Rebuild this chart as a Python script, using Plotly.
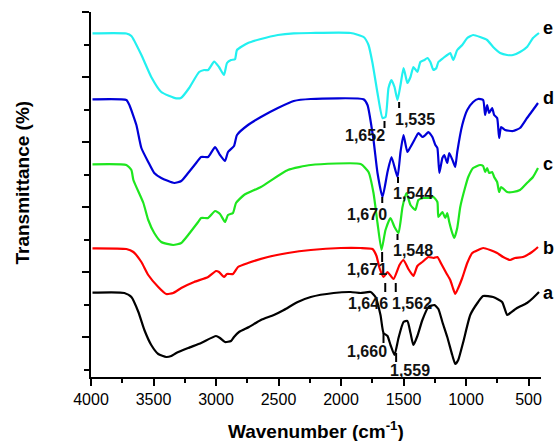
import plotly.graph_objects as go

# ---------------- data ----------------
wn_e = [3988, 3717, 3677, 3597, 3518, 3438, 3318, 3278, 3215, 3135, 3095, 3063, 3015, 2976, 2936,
        2912, 2880, 2848, 2832, 2744, 2641, 2505, 2378, 2242, 1923, 1819, 1780, 1748, 1708, 1668,
        1644, 1620, 1596, 1572, 1548, 1524, 1500, 1485, 1469, 1444, 1421, 1389, 1365, 1333, 1309,
        1285, 1261, 1237, 1221, 1182, 1150, 1126, 1102, 1070, 1030, 990, 943, 887, 831, 783, 727,
        671, 624, 568, 512, 464, 416]
t_e = [343.7, 343.5, 341, 322, 300, 285, 278.7, 279.3, 289, 305, 307, 307, 315.3, 310, 302,
       314, 317, 317.7, 327, 334, 338, 342, 343.7, 344, 344, 340, 332, 314, 284, 259,
       260, 289, 297, 290, 277, 292, 309, 302, 294, 300, 310, 305, 315, 317, 319,
       315, 307, 309, 315, 319, 322, 324, 317, 327, 332, 339, 342, 340, 337, 330, 324,
       322, 322, 325, 330, 339, 344]

wn_d = [3988, 3717, 3693, 3637, 3597, 3542, 3494, 3438, 3334, 3278, 3223, 3159, 3119, 3063, 3007,
        2968, 2928, 2904, 2856, 2832, 2744, 2641, 2505, 2378, 2242, 1820, 1788, 1740, 1708, 1668,
        1628, 1596, 1548, 1524, 1500, 1469, 1444, 1413, 1381, 1349, 1325, 1301, 1269, 1245, 1229,
        1213, 1189, 1174, 1150, 1134, 1102, 1086, 1070, 1030, 990, 943, 903, 863, 847, 831, 815,
        791, 775, 751, 735, 719, 687, 624, 568, 512, 464, 424]
t_d = [277.7, 277, 272, 252, 229, 215, 204, 199, 194, 196, 204, 214, 220, 220, 230,
       222, 216, 225, 231, 242, 252, 260, 269, 276, 278, 277.7, 272, 237, 204, 180,
       205, 220, 200, 225, 242, 225, 230, 237, 244, 240, 242, 245, 240, 232, 229,
       204, 219, 222, 214, 224, 215, 210, 225, 252, 267, 275, 278, 277, 262, 272, 264,
       269, 262, 259, 239, 250, 247, 246, 249, 259, 267, 274]

wn_c = [3988, 3717, 3677, 3661, 3581, 3542, 3494, 3438, 3342, 3278, 3223, 3143, 3119, 3063, 3007,
        2968, 2928, 2904, 2864, 2840, 2776, 2641, 2425, 2242, 1843, 1780, 1740, 1708, 1676, 1644,
        1604, 1572, 1540, 1508, 1477, 1444, 1405, 1381, 1341, 1301, 1261, 1229, 1221, 1189, 1166,
        1150, 1134, 1110, 1094, 1070, 1046, 1006, 982, 943, 887, 863, 847, 831, 815, 791, 775,
        751, 735, 719, 671, 624, 568, 512, 464, 424]
t_c = [212.7, 212, 207, 197, 174, 157, 144, 135, 132, 134, 142, 155, 159, 159, 166,
       163, 155, 162, 164, 174, 182, 190, 207, 212, 213, 205, 184, 154, 127, 147,
       159, 150, 144, 170, 184, 172, 167, 177, 179, 179, 180, 175, 160, 165, 159,
       164, 155, 144, 139, 149, 170, 190, 200, 209, 212, 211, 205, 209, 204, 205, 200,
       195, 185, 190, 185, 185, 187, 194, 200, 209]

wn_b = [3988, 3717, 3661, 3597, 3542, 3462, 3398, 3342, 3278, 3175, 3063, 3000, 2976, 2936, 2912,
        2864, 2824, 2744, 2585, 2425, 2242, 2003, 1843, 1748, 1716, 1692, 1660, 1628, 1580, 1532,
        1500, 1461, 1421, 1389, 1349, 1301, 1261, 1229, 1197, 1158, 1126, 1102, 1086, 1062, 1030,
        990, 950, 903, 863, 807, 751, 703, 647, 608, 544, 472, 424]
t_b = [128.7, 128, 125, 115, 102, 90, 83, 84, 89, 95, 100, 106, 105, 100, 103,
       103, 110, 114, 120, 124, 127, 129, 129, 128, 121, 109, 100, 105, 98, 112,
       117, 108, 101, 111, 115, 120, 119, 120, 113, 104, 97, 88, 83, 89, 99,
       114, 124, 127, 129, 127, 124, 120, 117, 119, 120, 125, 130]

wn_a = [3988, 3733, 3677, 3621, 3573, 3518, 3462, 3398, 3358, 3318, 3223, 3119, 3000, 2968, 2928,
        2880, 2856, 2816, 2736, 2641, 2537, 2457, 2346, 2242, 2059, 1923, 1843, 1763, 1724, 1684,
        1660, 1628, 1604, 1572, 1540, 1500, 1469, 1444, 1421, 1389, 1349, 1301, 1253, 1221, 1189,
        1150, 1110, 1086, 1062, 1022, 966, 903, 863, 783, 711, 671, 647, 592, 512, 464, 416]
t_a = [84.3, 84, 80, 65, 47, 32, 23, 20, 21, 24, 29, 34, 41, 39, 35,
       36, 40, 45, 50, 57, 62, 67, 75, 80, 84, 85, 84, 85, 80, 62,
       44, 41, 32, 22, 39, 55, 56, 44, 32, 41, 57, 70, 72, 68, 55,
       40, 22, 13, 17, 35, 62, 75, 81, 80, 75, 62, 64, 69, 74, 79, 85]

series_names = ["a", "b", "c", "d", "e"]
series_x = [wn_a, wn_b, wn_c, wn_d, wn_e]
series_y = [t_a, t_b, t_c, t_d, t_e]
series_colors = ["#000000", "#ff0000", "#1ee61e", "#0000d8", "#22f0f0"]
series_label_y = [84, 129, 213, 279, 349]

x_ticks = [4000, 3500, 3000, 2500, 2000, 1500, 1000, 500]

# peak labels: text, tick (y0,y1), text position (x,y)
peak_text = ["1,652", "1,535", "1,670", "1,544", "1,671", "1,548", "1,646", "1,562", "1,660", "1,559"]
peak_wn = [1652, 1535, 1670, 1544, 1671, 1548, 1646, 1562, 1660, 1559]
peak_tick_y0 = [249, 269, 174, 194, 115, 137, 85, 85, 34, 15]
peak_tick_y1 = [256, 275, 180, 200, 125, 143, 94, 94, 44, 24]
peak_text_x = [1806, 1406, 1790, 1422, 1790, 1422, 1782, 1430, 1790, 1446]
peak_text_y = [242, 258, 163, 184, 108, 127, 74, 74, 26, 7]

x_title = "<b>Wavenumber (cm<sup>-1</sup>)</b>"
y_title = "<b>Transmittance (%)</b>"

FONT = "Arial, 'Liberation Sans', sans-serif"

fig = go.Figure()
for name, xs, ys, col in zip(series_names, series_x, series_y, series_colors):
    fig.add_trace(go.Scatter(x=xs, y=ys, mode="lines", name=name,
                             line=dict(color=col, width=2.2, shape="spline", smoothing=0.5),
                             showlegend=False))

annotations = []
shapes = []
for txt, wn, y0, y1, tx, ty in zip(peak_text, peak_wn, peak_tick_y0, peak_tick_y1, peak_text_x, peak_text_y):
    shapes.append(dict(type="line", xref="x", yref="y", x0=wn, x1=wn, y0=y0, y1=y1,
                       line=dict(color="black", width=2)))
    annotations.append(dict(x=tx, y=ty, xref="x", yref="y", text="<b>" + txt + "</b>",
                            showarrow=False, font=dict(family=FONT, size=16, color="#111")))

for name, ly in zip(series_names, series_label_y):
    annotations.append(dict(x=1, y=ly, xref="paper", yref="y", xanchor="center", xshift=7,
                            text="<b>" + name + "</b>", showarrow=False,
                            font=dict(family=FONT, size=18, color="black")))

# axis titles as annotations (kept at fixed offsets from the plot area)
annotations.append(dict(x=0.5, y=0, xref="paper", yref="paper", xanchor="center", yanchor="middle",
                        yshift=-53, text=x_title, showarrow=False,
                        font=dict(family=FONT, size=19, color="black")))
annotations.append(dict(x=0, y=0.5, xref="paper", yref="paper", xanchor="center", yanchor="middle",
                        xshift=-69, yshift=12, textangle=-90, text=y_title, showarrow=False,
                        font=dict(family=FONT, size=19, color="black")))

fig.update_layout(
    width=556, height=441,
    margin=dict(l=91, r=15, t=12, b=64),
    paper_bgcolor="white", plot_bgcolor="white",
    font=dict(family=FONT, color="black"),
    annotations=annotations, shapes=shapes,
    xaxis=dict(range=[4000, 400], tickmode="array", tickvals=x_ticks,
               ticktext=[str(v) for v in x_ticks],
               ticks="outside", ticklen=7, tickwidth=2, tickcolor="black",
               minor=dict(dtick=250, tick0=250, ticks="outside", ticklen=4, tickwidth=2, tickcolor="black"),
               showline=True, linecolor="black", linewidth=2, showgrid=False, zeroline=False,
               tickfont=dict(family=FONT, size=16), automargin=False),
    yaxis=dict(range=[0, 365], tickmode="linear", tick0=40, dtick=65,
               ticks="outside", ticklen=7, tickwidth=2, tickcolor="black",
               minor=dict(dtick=32.5, tick0=7.5, ticks="outside", ticklen=5, tickwidth=2, tickcolor="black"),
               showticklabels=False, automargin=False,
               showline=True, linecolor="black", linewidth=2, showgrid=False, zeroline=False),
)

fig.write_html("out.html", config={"displayModeBar": False},
               post_script="document.body.style.margin='0px';document.body.style.overflow='hidden';")
